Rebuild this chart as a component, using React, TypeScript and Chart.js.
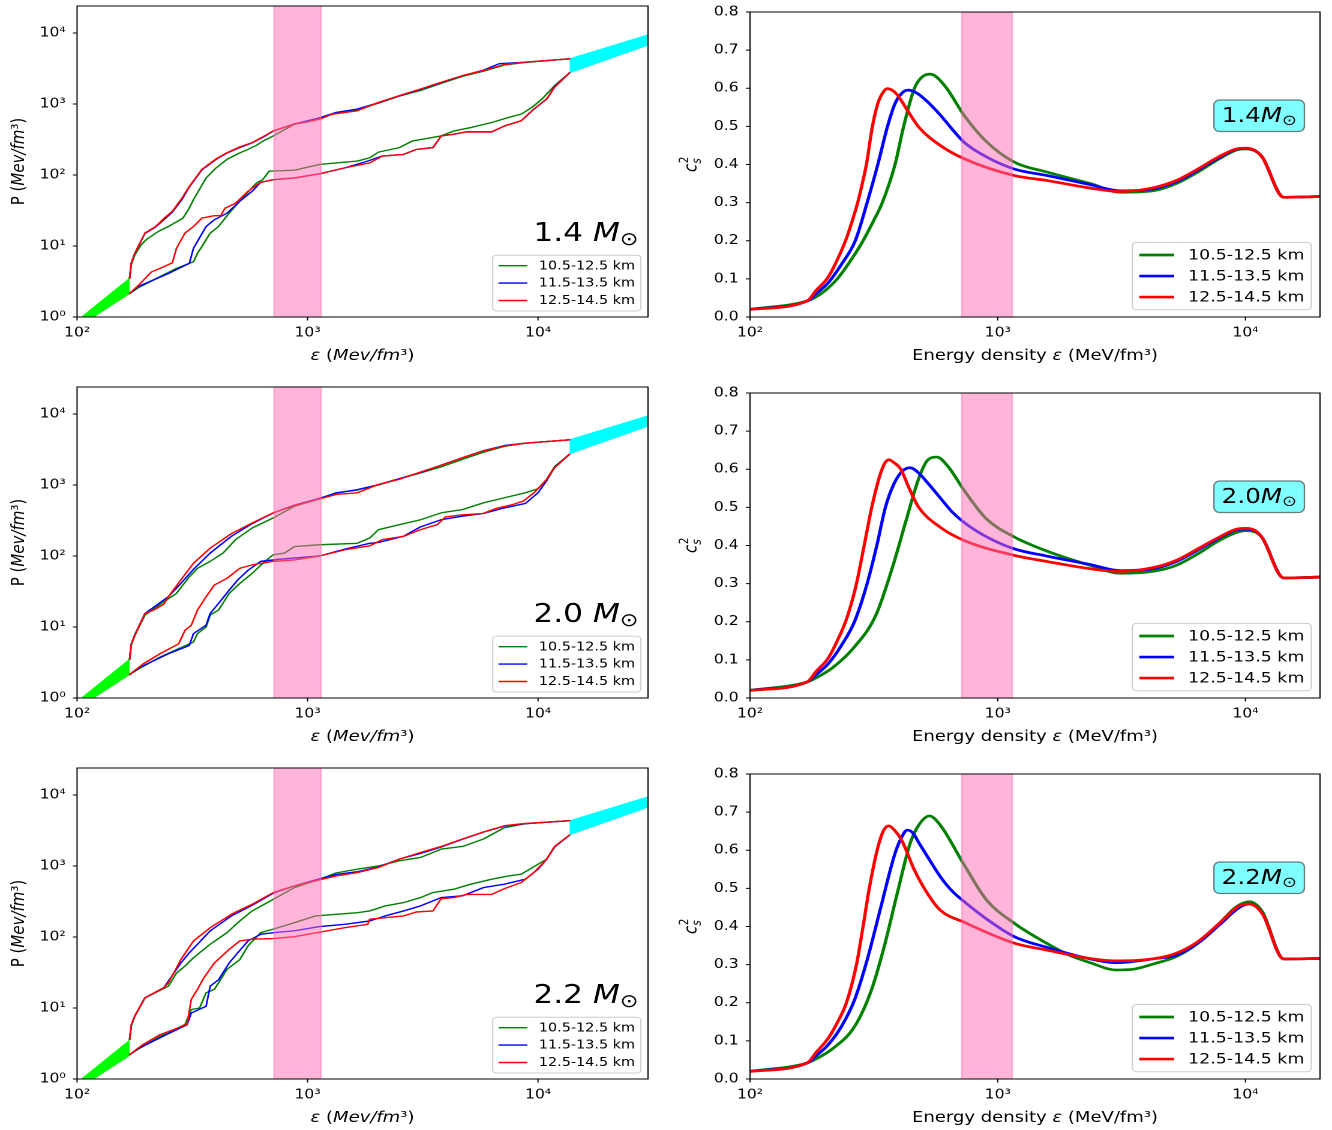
import React, { useEffect, useRef } from "react";
import { Chart, registerables } from "chart.js";

Chart.register(...registerables);

type Pt = [number, number];

// ---------------- labels / ticks ----------------
const SERIES_LABELS = ["10.5-12.5 km", "11.5-13.5 km", "12.5-14.5 km"];
const SERIES_COLORS = ["#008000", "#0000ff", "#ff0000"];
const MASS_LABELS = ["1.4", "2.0", "2.2"];
const BAND = [715, 1145];
const P_TICK_VALUES = [1, 10, 100, 1000, 10000];
const P_TICK_LABELS = ["10⁰", "10¹", "10²", "10³", "10⁴"];
const EPS_TICK_VALUES = [100, 1000, 10000];
const EPS_TICK_LABELS = ["10²", "10³", "10⁴"];
const CS_TICK_VALUES = [0, 0.1, 0.2, 0.3, 0.4, 0.5, 0.6, 0.7, 0.8];
const CS_TICK_LABELS = ["0.0", "0.1", "0.2", "0.3", "0.4", "0.5", "0.6", "0.7", "0.8"];
const P_EPS_RANGE = [100, 30000];
const P_RANGE = [1, 24000];
const CS_EPS_RANGE = [100, 20000];
const CS_RANGE = [0, 0.8];

// ---------------- low / high density bands ----------------
const LOW_BAND_UP: Pt[] = [[100, 0.885], [169, 3.5]];
const LOW_BAND_LO: Pt[] = [[100, 0.71], [169, 2.14]];
const HIGH_BAND_UP: Pt[] = [[13700, 4330], [30000, 9400]];
const HIGH_BAND_LO: Pt[] = [[13700, 2750], [30000, 6750]];

// ---------------- P(eps) : 1.4 Msun ----------------
const M14_UP_G: Pt[] = [[169,3.5],[172,5.5],[178,7.5],[190,10.5],[201,12.5],[225,16],[249,18.8],[288,24.7],[305,33],[320,45],[340,63],[363,91],[400,125],[447,166],[500,200],[552,230],[600,262],[640,300],[710,355],[800,440],[877,520],[1000,570],[1128,615],[1280,720],[1645,820],[2030,1030],[2500,1290],[3090,1550],[3800,1950],[4700,2450],[5800,2900],[7150,3550],[8810,3850],[13700,4330]];
const M14_UP_B: Pt[] = [[169,3.5],[172,5.8],[178,7.9],[197,15],[219,18.5],[240,24],[259,30],[285,45],[307,68],[348,118],[400,165],[447,204],[510,245],[575,284],[640,340],[710,415],[877,525],[1000,580],[1128,640],[1330,760],[1645,850],[2030,1040],[2500,1300],[3090,1600],[3800,2000],[4700,2500],[5800,3000],[6800,3700],[8810,3880],[13700,4330]];
const M14_UP_R: Pt[] = [[169,3.5],[172,5.8],[178,7.9],[197,15.2],[219,18.8],[240,25],[259,30.7],[285,47],[307,69],[348,120],[400,168],[447,206],[510,250],[575,286],[640,345],[710,418],[877,520],[1000,560],[1128,611],[1280,720],[1645,802],[2030,1052],[2500,1310],[3090,1626],[3800,2024],[4700,2512],[5800,2960],[7150,3600],[8810,3880],[13700,4330]];
const M14_LO_G: Pt[] = [[169,2.14],[185,2.6],[229,3.7],[270,4.84],[320,6.0],[333,7.9],[348,9.8],[378,15.2],[411,18.8],[457,29],[530,50],[600,77],[639,86],[681,113],[877,117],[1128,141],[1333,148],[1645,157],[1860,175],[2030,210],[2500,243],[2840,300],[3800,355],[4320,418],[5100,466],[6300,549],[7450,646],[8450,720],[9400,894],[10400,1175],[11800,1820],[13700,2750]];
const M14_LO_B: Pt[] = [[169,2.14],[185,2.7],[249,4.1],[307,5.7],[320,9.3],[363,18.8],[394,23.4],[447,29],[508,42.6],[575,59],[626,79],[710,86],[877,91],[1128,104],[1450,126],[1800,155],[2110,185],[2610,195],[2960,229],[3500,243],[3800,355],[4320,375],[4900,405],[6300,405],[7150,491],[8450,580],[9600,850],[10900,1175],[11800,1750],[13700,2750]];
const M14_LO_R: Pt[] = [[169,2.14],[185,2.81],[210,4.3],[238,5.1],[259,5.8],[270,9.3],[294,15.2],[320,18.8],[348,24.7],[394,26.7],[420,26.7],[438,34],[487,40],[552,59],[626,79],[710,86],[877,91],[1128,104],[1450,126],[1860,148],[2110,185],[2610,195],[2960,229],[3500,243],[3800,355],[4320,375],[4900,405],[6300,405],[7150,491],[8450,580],[9600,847],[10900,1175],[11800,1718],[13700,2750]];

// ---------------- P(eps) : 2.0 Msun ----------------
const M20_UP_G: Pt[] = [[169,3.5],[172,5.6],[178,7.6],[197,14.7],[238,22.7],[270,29.7],[307,51],[333,67],[378,84],[430,110],[487,170],[575,248],[710,344],[877,502],[1128,640],[1333,780],[1645,850],[2030,1000],[2500,1220],[3090,1480],[3800,1800],[4700,2300],[5800,2900],[7150,3500],[8810,3880],[13700,4330]];
const M20_UP_B: Pt[] = [[169,3.5],[172,5.8],[178,7.8],[197,15.5],[249,26.7],[282,41],[320,65],[378,110],[467,189],[575,286],[710,405],[877,520],[1128,650],[1333,770],[1645,860],[2030,1010],[2500,1230],[3090,1500],[3800,1900],[4700,2420],[5800,3050],[7150,3600],[8810,3880],[13700,4330]];
const M20_UP_R: Pt[] = [[169,3.5],[172,5.8],[178,7.6],[197,15.5],[215,17.3],[238,21],[249,26.7],[282,46],[320,79],[378,129],[467,206],[575,292],[710,405],[877,513],[1128,638],[1333,736],[1645,776],[2030,1019],[2500,1200],[3090,1524],[3800,1892],[4700,2432],[5800,3020],[7150,3550],[8810,3880],[13700,4330]];
const M20_LO_G: Pt[] = [[169,2.14],[185,2.57],[229,3.77],[270,4.8],[320,6.15],[333,8.07],[363,10],[378,14.7],[411,17.3],[457,29.7],[508,41],[575,57],[653,84],[710,104],[795,110],[877,136],[1128,144],[1645,151],[1860,179],[2030,235],[2500,276],[3090,324],[3800,405],[4700,451],[5800,561],[7150,661],[8810,776],[10000,885],[10900,1200],[11800,1820],[13700,2712]];
const M20_LO_B: Pt[] = [[169,2.14],[185,2.65],[249,4.2],[307,5.5],[320,8.07],[363,10.6],[378,15.5],[411,21.5],[457,33],[498,46],[552,63],[626,84],[753,90],[1128,100],[1450,125],[1860,151],[2030,155],[2610,190],[3090,257],[3800,324],[4700,363],[5800,398],[7150,476],[8810,549],[10000,776],[10900,1150],[11800,1780],[13700,2712]];
const M20_LO_R: Pt[] = [[169,2.14],[193,3.0],[229,4.2],[276,5.8],[294,9.0],[313,10.6],[333,17.3],[363,26.7],[394,39],[447,48.5],[508,67],[575,75],[710,84],[877,88],[1128,100],[1450,122],[1860,139],[2110,170],[2610,189],[3090,235],[3650,276],[3970,355],[4700,380],[5800,398],[6580,468],[7770,531],[8630,592],[9600,776],[10900,1200],[11800,1755],[13700,2712]];

// ---------------- P(eps) : 2.2 Msun ----------------
const M22_UP_G: Pt[] = [[169,3.6],[172,5.6],[178,7.7],[197,13.9],[249,20.3],[270,31],[294,39],[320,51],[378,79],[447,115],[508,168],[575,233],[710,339],[877,497],[1128,650],[1333,800],[1645,902],[2030,1000],[2500,1183],[3090,1318],[3800,1730],[4700,1884],[5800,2400],[7150,3470],[8810,3950],[13700,4345]];
const M22_UP_B: Pt[] = [[169,3.6],[172,5.8],[178,7.7],[197,13.9],[238,19.3],[282,43],[307,60],[333,79],[378,122],[467,198],[575,280],[710,415],[877,525],[1128,660],[1333,760],[1645,830],[2030,970],[2500,1250],[3090,1500],[3800,1850],[4700,2380],[5800,3000],[7150,3650],[8810,3950],[13700,4345]];
const M22_UP_R: Pt[] = [[169,3.6],[172,5.8],[178,7.7],[197,13.9],[238,19.3],[249,22.6],[282,48],[320,88],[378,135],[467,209],[575,289],[710,423],[877,525],[1128,638],[1333,725],[1645,809],[2030,953],[2500,1248],[3090,1550],[3800,1884],[4700,2400],[5800,3020],[7150,3690],[8810,3980],[13700,4345]];
const M22_LO_G: Pt[] = [[169,2.2],[185,2.65],[229,4.0],[294,5.85],[313,9.5],[340,10],[363,16.4],[394,18.3],[411,22.6],[447,35],[508,48],[552,75],[626,115],[710,129],[877,159],[1081,198],[1333,209],[1645,220],[1860,233],[2170,274],[2610,305],[3090,359],[3500,423],[4320,471],[5100,554],[6300,651],[7450,725],[8450,767],[9200,902],[10900,1248],[11800,1880],[13700,2724]];
const M22_LO_B: Pt[] = [[169,2.2],[185,2.7],[249,4.36],[300,5.8],[313,8.5],[363,10.6],[378,20.3],[411,25],[457,43],[498,60],[552,88],[626,109],[710,115],[877,122],[1128,140],[1450,151],[1860,168],[2170,198],[2610,233],[3090,274],[3800,359],[4700,380],[5800,497],[7150,554],[8810,651],[10000,902],[10900,1248],[11800,1850],[13700,2724]];
const M22_LO_R: Pt[] = [[169,2.2],[193,3.05],[229,4.2],[300,5.85],[313,13.2],[333,18.3],[355,26.7],[394,43],[457,67],[508,88],[575,93],[710,95],[877,101],[1128,117],[1450,135],[1825,151],[1860,178],[2170,187],[2610,198],[2960,225],[3500,233],[3800,347],[4320,359],[4900,398],[6300,398],[7150,480],[8450,585],[9600,809],[10900,1248],[11800,1884],[13700,2724]];

// ---------------- c_s^2(eps) ----------------
const M14_CS_G: Pt[] = [[100,0.02],[170,0.042],[184,0.052],[200,0.068],[225,0.1],[256,0.15],[286,0.2],[314,0.25],[342,0.3],[385,0.4],[417,0.5],[461,0.6],[490,0.627],[530,0.637],[560,0.632],[622,0.6],[733,0.528],[900,0.46],[1169,0.406],[1585,0.38],[2364,0.35],[3130,0.327],[4310,0.332],[5260,0.35],[6420,0.38],[7840,0.415],[9200,0.438],[10000,0.441],[10900,0.436],[11700,0.419],[14270,0.314],[20000,0.316]];
const M14_CS_B: Pt[] = [[100,0.02],[170,0.042],[184,0.06],[207,0.09],[235,0.14],[266,0.2],[297,0.3],[328,0.4],[359,0.5],[385,0.56],[410,0.587],[434,0.595],[470,0.588],[520,0.565],[586,0.53],[650,0.495],[733,0.458],[900,0.42],[1169,0.388],[1585,0.371],[2364,0.347],[3130,0.331],[4310,0.337],[5260,0.355],[6420,0.385],[7840,0.418],[9200,0.44],[10000,0.442],[10900,0.437],[11700,0.419],[14270,0.314],[20000,0.316]];
const M14_CS_R: Pt[] = [[100,0.02],[170,0.042],[185,0.07],[207,0.105],[225,0.15],[243,0.2],[258,0.25],[272,0.3],[284,0.35],[295,0.4],[312,0.5],[328,0.56],[345,0.59],[359,0.599],[375,0.595],[393,0.583],[434,0.54],[480,0.498],[586,0.45],[733,0.415],[1169,0.371],[1585,0.358],[2364,0.338],[3130,0.329],[4310,0.34],[5260,0.358],[6420,0.388],[7840,0.421],[9200,0.441],[10000,0.443],[10900,0.437],[11700,0.419],[14270,0.314],[20000,0.316]];
const M20_CS_G: Pt[] = [[100,0.02],[170,0.042],[184,0.052],[216,0.08],[264,0.134],[322,0.217],[378,0.348],[425,0.462],[480,0.576],[520,0.623],[568,0.632],[632,0.606],[733,0.544],[900,0.47],[1169,0.422],[1585,0.385],[2364,0.348],[3130,0.327],[4310,0.333],[5260,0.348],[6420,0.378],[7840,0.413],[9200,0.434],[10000,0.439],[10900,0.436],[11700,0.42],[14270,0.315],[20000,0.317]];
const M20_CS_B: Pt[] = [[100,0.02],[170,0.042],[184,0.06],[207,0.09],[235,0.14],[264,0.2],[297,0.3],[325,0.4],[352,0.5],[380,0.56],[412,0.595],[443,0.604],[480,0.59],[520,0.565],[586,0.525],[650,0.49],[733,0.46],[900,0.423],[1169,0.391],[1585,0.372],[2364,0.35],[3130,0.334],[4310,0.34],[5260,0.358],[6420,0.388],[7840,0.42],[9200,0.441],[10000,0.443],[10900,0.438],[11700,0.42],[14270,0.315],[20000,0.317]];
const M20_CS_R: Pt[] = [[100,0.02],[170,0.042],[185,0.07],[207,0.105],[225,0.15],[243,0.2],[257,0.25],[269,0.3],[289,0.4],[310,0.5],[333,0.58],[348,0.613],[363,0.625],[380,0.618],[406,0.6],[439,0.55],[480,0.5],[586,0.448],[733,0.413],[1169,0.374],[1585,0.358],[2364,0.339],[3130,0.332],[4310,0.343],[5260,0.361],[6420,0.391],[7840,0.422],[9200,0.443],[10000,0.445],[10900,0.44],[11700,0.42],[14270,0.315],[20000,0.317]];
const M22_CS_G: Pt[] = [[100,0.02],[170,0.042],[184,0.052],[216,0.08],[264,0.137],[309,0.233],[348,0.347],[393,0.487],[443,0.618],[480,0.666],[530,0.69],[586,0.666],[733,0.561],[900,0.47],[1169,0.408],[1585,0.355],[1940,0.325],[2364,0.305],[3000,0.286],[3530,0.288],[4310,0.303],[5260,0.321],[6420,0.356],[7840,0.408],[9200,0.452],[10370,0.465],[11700,0.439],[14270,0.315],[20000,0.316]];
const M22_CS_B: Pt[] = [[100,0.02],[170,0.042],[184,0.06],[207,0.09],[235,0.14],[264,0.207],[297,0.312],[335,0.443],[385,0.592],[410,0.635],[431,0.653],[455,0.645],[480,0.62],[530,0.575],[586,0.531],[650,0.495],[733,0.465],[900,0.42],[1169,0.373],[1585,0.345],[2364,0.315],[3000,0.305],[4310,0.316],[5260,0.325],[6420,0.356],[7840,0.404],[9570,0.452],[10370,0.459],[11700,0.434],[14270,0.315],[20000,0.316]];
const M22_CS_R: Pt[] = [[100,0.02],[170,0.042],[185,0.07],[207,0.107],[226,0.15],[245,0.2],[269,0.3],[286,0.4],[303,0.5],[326,0.6],[345,0.65],[363,0.664],[380,0.655],[409,0.627],[461,0.548],[520,0.487],[586,0.443],[733,0.411],[1169,0.356],[1585,0.338],[2364,0.316],[3000,0.31],[4310,0.316],[5260,0.33],[6420,0.36],[7840,0.408],[9570,0.456],[10370,0.459],[11700,0.434],[14270,0.315],[20000,0.316]];

const P_ROWS = [
  { up: [M14_UP_G, M14_UP_B, M14_UP_R], lo: [M14_LO_G, M14_LO_B, M14_LO_R] },
  { up: [M20_UP_G, M20_UP_B, M20_UP_R], lo: [M20_LO_G, M20_LO_B, M20_LO_R] },
  { up: [M22_UP_G, M22_UP_B, M22_UP_R], lo: [M22_LO_G, M22_LO_B, M22_LO_R] },
];
const CS_ROWS = [
  [M14_CS_G, M14_CS_B, M14_CS_R],
  [M20_CS_G, M20_CS_B, M20_CS_R],
  [M22_CS_G, M22_CS_B, M22_CS_R],
];

// ---------------- layout ----------------
const STRETCH = 1.2; // the reference figure is stretched horizontally
const ROW_TOP = [0, 381, 762];
const PANEL_H = 381;
const FONT = "'DejaVu Sans', sans-serif";
const fnt = (size: number, it = false) => `${it ? "italic " : ""}${size}px ${FONT}`;

Chart.defaults.font.family = FONT;
Chart.defaults.color = "#000";

type Seg = { t: string; size: number; it?: boolean; dy?: number };

function richWidth(ctx: CanvasRenderingContext2D, segs: Seg[]) {
  let w = 0;
  for (const s of segs) {
    ctx.font = fnt(s.size, s.it);
    w += ctx.measureText(s.t).width;
  }
  return w;
}
function drawRich(ctx: CanvasRenderingContext2D, segs: Seg[], x: number, y: number, align: string) {
  const w = richWidth(ctx, segs);
  let cx = align === "center" ? x - w / 2 : align === "right" ? x - w : x;
  ctx.textAlign = "left";
  ctx.textBaseline = "alphabetic";
  for (const s of segs) {
    ctx.font = fnt(s.size, s.it);
    ctx.fillText(s.t, cx, y + (s.dy || 0));
    cx += ctx.measureText(s.t).width;
  }
  return w;
}

function rrect(ctx: any, x: number, y: number, w: number, h: number, r: number) {
  ctx.beginPath();
  if (ctx.roundRect) ctx.roundRect(x, y, w, h, r);
  else ctx.rect(x, y, w, h);
}

function logTicks(min: number, max: number) {
  const out: { value: number }[] = [];
  for (let e = -1; e <= 6; e++) {
    const d = Math.pow(10, e);
    for (let m = 1; m <= 9; m++) {
      const v = Math.round(m * d * 1e6) / 1e6;
      if (v >= min * 0.9999 && v <= max * 1.0001) out.push({ value: v });
    }
  }
  return out;
}
const labelFor = (v: any, vals: number[], labels: string[]) => {
  const n = Number(v);
  const i = vals.findIndex((x) => Math.abs(x - n) < 1e-9 * Math.max(1, x));
  return i >= 0 ? labels[i] : null;
};

function drawLegend(ctx: CanvasRenderingContext2D, chart: any, f: number, lw: number) {
  const ca = chart.chartArea;
  const items = chart.data.datasets.filter((d: any) => d.legend);
  ctx.font = fnt(f);
  const tw = Math.max(...items.map((d: any) => ctx.measureText(d.label).width));
  const pad = 0.4 * f, sp = 0.5 * f, hl = 2 * f, htp = 0.8 * f, bap = 0.5 * f, rh = 0.95 * f;
  const W = pad * 2 + hl + htp + tw;
  const H = pad * 2 + items.length * rh + (items.length - 1) * sp;
  const x0 = ca.right - bap - W;
  const y0 = ca.bottom - bap - H;
  rrect(ctx, x0, y0, W, H, 0.25 * f);
  ctx.fillStyle = "rgba(255,255,255,0.8)";
  ctx.fill();
  ctx.strokeStyle = "#cccccc";
  ctx.lineWidth = 1;
  ctx.stroke();
  items.forEach((d: any, i: number) => {
    const cy = y0 + pad + rh / 2 + i * (rh + sp);
    ctx.strokeStyle = d.borderColor;
    ctx.lineWidth = lw;
    ctx.lineCap = "butt";
    ctx.beginPath();
    ctx.moveTo(x0 + pad, cy);
    ctx.lineTo(x0 + pad + hl, cy);
    ctx.stroke();
    ctx.fillStyle = "#000";
    ctx.font = fnt(f);
    ctx.textAlign = "left";
    ctx.textBaseline = "middle";
    ctx.fillText(d.label, x0 + pad + hl + htp, cy + 0.5);
  });
}

const decor = {
  id: "decor",
  afterDatasetsDraw(chart: any) {
    const { ctx, chartArea: ca } = chart;
    const xs = chart.scales.x;
    const x0 = xs.getPixelForValue(BAND[0]);
    const x1 = xs.getPixelForValue(BAND[1]);
    ctx.save();
    ctx.fillStyle = "rgba(255,105,180,0.5)";
    ctx.fillRect(x0, ca.top, x1 - x0, ca.bottom - ca.top);
    ctx.strokeStyle = "rgba(255,105,180,0.5)";
    ctx.lineWidth = 1;
    ctx.beginPath();
    ctx.moveTo(x0, ca.top); ctx.lineTo(x0, ca.bottom);
    ctx.moveTo(x1, ca.top); ctx.lineTo(x1, ca.bottom);
    ctx.stroke();
    ctx.restore();
  },
  afterDraw(chart: any, _args: any, o: any) {
    const { ctx, chartArea: ca } = chart;
    const xs = chart.scales.x, ys = chart.scales.y;
    ctx.save();
    // frame
    ctx.strokeStyle = "#000";
    ctx.lineWidth = 1;
    ctx.strokeRect(ca.left, ca.top, ca.right - ca.left, ca.bottom - ca.top);
    // tick marks
    ctx.beginPath();
    for (const t of xs.ticks) {
      const p = xs.getPixelForValue(t.value);
      if (p < ca.left - 0.5 || p > ca.right + 0.5) continue;
      const major = EPS_TICK_VALUES.includes(t.value);
      ctx.moveTo(p, ca.bottom);
      ctx.lineTo(p, ca.bottom + (major ? 3.5 : 2));
    }
    for (const t of ys.ticks) {
      const p = ys.getPixelForValue(t.value);
      if (p < ca.top - 0.5 || p > ca.bottom + 0.5) continue;
      const major = o.kind === "cs" ? true : P_TICK_VALUES.includes(t.value);
      ctx.moveTo(ca.left, p);
      ctx.lineTo(ca.left - (major ? 3.5 : 2), p);
    }
    ctx.stroke();
    ctx.fillStyle = "#000";
    const midY = (ca.top + ca.bottom) / 2;
    if (o.kind === "p") {
      drawRich(ctx, [
        { t: "ε", size: 15, it: true }, { t: " (", size: 15 }, { t: "Mev/fm", size: 15, it: true },
        { t: "³", size: 15 }, { t: ")", size: 15 },
      ], (ca.left + ca.right) / 2, ca.bottom + 43, "center");
      ctx.save();
      ctx.translate(15, midY);
      ctx.rotate(-Math.PI / 2);
      drawRich(ctx, [
        { t: "P (", size: 15 }, { t: "Mev/fm", size: 15, it: true }, { t: "³", size: 15 }, { t: ")", size: 15 },
      ], 0, 5, "center");
      ctx.restore();
      ctx.fillStyle = "#000";
      drawRich(ctx, [
        { t: o.mass + " ", size: 26 }, { t: "M", size: 26, it: true }, { t: "⊙", size: 18.5, dy: 4 },
      ], ca.right - 8, ca.bottom - 76, "right");
      drawLegend(ctx, chart, 12, 1.4);
    } else {
      drawRich(ctx, [
        { t: "Energy density ", size: 15 }, { t: "ε", size: 15, it: true }, { t: " (MeV/fm", size: 15 },
        { t: "³", size: 15 }, { t: ")", size: 15 },
      ], (ca.left + ca.right) / 2, ca.bottom + 43, "center");
      ctx.save();
      ctx.translate(26.5, midY);
      ctx.rotate(-Math.PI / 2);
      ctx.font = fnt(15, true);
      const wc = ctx.measureText("c").width;
      ctx.font = fnt(10.5);
      const ws = ctx.measureText("2").width;
      const sx = -(wc + ws) / 2;
      ctx.textAlign = "left";
      ctx.textBaseline = "alphabetic";
      ctx.font = fnt(15, true);
      ctx.fillText("c", sx, 4);
      ctx.font = fnt(10.5);
      ctx.fillText("2", sx + wc + 0.5, -3);
      ctx.font = fnt(10.5, true);
      ctx.fillText("s", sx + wc, 7.5);
      ctx.restore();
      // mass box
      const segs: Seg[] = [
        { t: o.mass, size: 20.5 }, { t: "M", size: 20.5, it: true }, { t: "⊙", size: 14.5, dy: 3 },
      ];
      const w = richWidth(ctx, segs);
      const pad = 6.5;
      const bw = w + 2 * pad, bh = 31.5;
      const bx = ca.right - 13 - bw, by = ca.top + 88;
      rrect(ctx, bx, by, bw, bh, 5);
      ctx.fillStyle = "rgba(0,255,255,0.5)";
      ctx.fill();
      ctx.strokeStyle = "rgba(0,0,0,0.5)";
      ctx.lineWidth = 1.2;
      ctx.stroke();
      ctx.fillStyle = "#000";
      drawRich(ctx, segs, bx + pad, by + 22, "left");
      drawLegend(ctx, chart, 14.5, 2.7);
    }
    ctx.restore();
  },
};

const toXY = (pts: Pt[]) => pts.map(([x, y]) => ({ x, y }));

const lineDs = (pts: Pt[], i: number, w: number, legend: boolean, smooth: boolean) => ({
  label: SERIES_LABELS[i],
  legend,
  data: toXY(pts),
  borderColor: SERIES_COLORS[i],
  backgroundColor: SERIES_COLORS[i],
  borderWidth: w,
  pointRadius: 0,
  pointHoverRadius: 0,
  showLine: true,
  fill: false,
  order: 3 - i,
  tension: 0,
  cubicInterpolationMode: smooth ? "monotone" : "default",
  borderJoinStyle: "round",
  borderCapStyle: "round",
});
const fillDs = (pts: Pt[], color: string, fill: any) => ({
  label: "",
  legend: false,
  data: toXY(pts),
  borderColor: color,
  backgroundColor: color,
  borderWidth: 1,
  pointRadius: 0,
  showLine: true,
  fill,
  order: 10,
});

const GRID = { display: true, drawOnChartArea: false, drawTicks: true, tickLength: 3.5, color: "rgba(0,0,0,0)" };
const TICKS = { autoSkip: false, maxRotation: 0, minRotation: 0, font: { family: FONT, size: 13 }, color: "#000" };

// fix the plot-area geometry: axis boxes of fixed size and no extra label padding
const fitX = (h: number) => (s: any) => { s.height = h; s.paddingLeft = 0; s.paddingRight = 0; s.paddingTop = 0; s.paddingBottom = 0; };
const fitY = (w: number) => (s: any) => { s.width = w; s.paddingLeft = 0; s.paddingRight = 0; s.paddingTop = 0; s.paddingBottom = 0; };

function pConfig(r: number): any {
  const row = P_ROWS[r];
  const datasets: any[] = [];
  for (let i = 0; i < 3; i++) datasets.push(lineDs(row.up[i], i, 1.4, true, false));
  for (let i = 0; i < 3; i++) datasets.push(lineDs(row.lo[i], i, 1.4, false, false));
  datasets.push(fillDs(LOW_BAND_UP, "#00ff00", "+1"), fillDs(LOW_BAND_LO, "#00ff00", false));
  datasets.push(fillDs(HIGH_BAND_UP, "#00ffff", "+1"), fillDs(HIGH_BAND_LO, "#00ffff", false));
  return {
    type: "scatter",
    data: { datasets },
    plugins: [decor],
    options: {
      responsive: false,
      animation: false,
      devicePixelRatio: 2,
      events: [],
      layout: { autoPadding: false, padding: { left: 0, right: 10, top: 6, bottom: 0 } },
      plugins: { legend: { display: false }, tooltip: { enabled: false }, decor: { kind: "p", mass: MASS_LABELS[r] } },
      scales: {
        x: {
          type: "logarithmic", position: "bottom", min: P_EPS_RANGE[0], max: P_EPS_RANGE[1],
          afterBuildTicks: (s: any) => { s.ticks = logTicks(P_EPS_RANGE[0], P_EPS_RANGE[1]); },
          afterFit: fitX(64),
          grid: GRID, border: { display: false },
          ticks: { ...TICKS, padding: 5, callback: (v: any) => labelFor(v, EPS_TICK_VALUES, EPS_TICK_LABELS) },
        },
        y: {
          type: "logarithmic", position: "left", min: P_RANGE[0], max: P_RANGE[1],
          afterBuildTicks: (s: any) => { s.ticks = logTicks(P_RANGE[0], P_RANGE[1]); },
          afterFit: fitY(64.2),
          grid: GRID, border: { display: false },
          ticks: { ...TICKS, padding: 6, callback: (v: any) => labelFor(v, P_TICK_VALUES, P_TICK_LABELS) },
        },
      },
    },
  };
}

function csConfig(r: number): any {
  const series = CS_ROWS[r];
  const datasets = series.map((pts, i) => lineDs(pts, i, 2.7, true, true));
  return {
    type: "scatter",
    data: { datasets },
    plugins: [decor],
    options: {
      responsive: false,
      animation: false,
      devicePixelRatio: 2,
      events: [],
      layout: { autoPadding: false, padding: { left: 0, right: 10, top: 12, bottom: 0 } },
      plugins: { legend: { display: false }, tooltip: { enabled: false }, decor: { kind: "cs", mass: MASS_LABELS[r] } },
      scales: {
        x: {
          type: "logarithmic", position: "bottom", min: CS_EPS_RANGE[0], max: CS_EPS_RANGE[1],
          afterBuildTicks: (s: any) => { s.ticks = logTicks(CS_EPS_RANGE[0], CS_EPS_RANGE[1]); },
          afterFit: fitX(64),
          grid: GRID, border: { display: false },
          ticks: { ...TICKS, padding: 5, callback: (v: any) => labelFor(v, EPS_TICK_VALUES, EPS_TICK_LABELS) },
        },
        y: {
          type: "linear", position: "left", min: CS_RANGE[0], max: CS_RANGE[1],
          afterBuildTicks: (s: any) => { s.ticks = CS_TICK_VALUES.map((value) => ({ value })); },
          afterFit: fitY(75),
          grid: GRID, border: { display: false },
          ticks: { ...TICKS, padding: 6, callback: (v: any) => labelFor(v, CS_TICK_VALUES, CS_TICK_LABELS) },
        },
      },
    },
  };
}

function ChartBox({ left, top, width, kind, row }: { left: number; top: number; width: number; kind: string; row: number }) {
  const ref = useRef<HTMLCanvasElement>(null);
  const w = Math.round(width / STRETCH);
  useEffect(() => {
    const cfg = kind === "p" ? pConfig(row) : csConfig(row);
    const chart = new Chart(ref.current as HTMLCanvasElement, cfg);
    return () => chart.destroy();
  }, [kind, row]);
  return (
    <div
      style={{
        position: "absolute", left, top, width: w, height: PANEL_H,
        transform: `scaleX(${width / w})`, transformOrigin: "0 0",
      }}
    >
      <canvas ref={ref} width={w} height={PANEL_H} style={{ display: "block", width: w, height: PANEL_H }} />
    </div>
  );
}

export default function App() {
  return (
    <div style={{ position: "absolute", left: 0, top: 0, width: 1332, height: 1130, overflow: "hidden", background: "#fff" }}>
      {MASS_LABELS.map((m, r) => (
        <React.Fragment key={m}>
          <ChartBox left={0} top={ROW_TOP[r]} width={660} kind="p" row={r} />
          <ChartBox left={660} top={ROW_TOP[r]} width={672} kind="cs" row={r} />
        </React.Fragment>
      ))}
    </div>
  );
}
